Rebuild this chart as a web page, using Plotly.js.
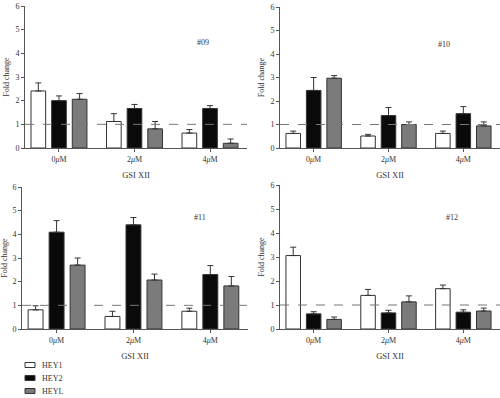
<!DOCTYPE html>
<html>
<head>
<meta charset="utf-8">
<script src="https://cdn.plot.ly/plotly-3.0.1.min.js"></script>
<style>html,body{margin:0;padding:0;background:#fff;}#chart{width:500px;height:398px;}</style>
</head>
<body>
<div id="chart"></div>
<script>
// Categories and series
var categories = ["0<i>μ</i>M", "2<i>μ</i>M", "4<i>μ</i>M"];
var seriesNames = ["HEY1", "HEY2", "HEYL"];
var panelLabels = ["#09", "#10", "#11", "#12"];
var yTicks = [0, 1, 2, 3, 4, 5, 6];

// #09
var p09_HEY1 = [2.41, 1.12, 0.63];
var p09_HEY1_err = [0.34, 0.33, 0.15];
var p09_HEY2 = [2.00, 1.67, 1.67];
var p09_HEY2_err = [0.20, 0.17, 0.12];
var p09_HEYL = [2.06, 0.81, 0.20];
var p09_HEYL_err = [0.24, 0.31, 0.18];
// #10
var p10_HEY1 = [0.62, 0.51, 0.62];
var p10_HEY1_err = [0.10, 0.07, 0.10];
var p10_HEY2 = [2.45, 1.38, 1.46];
var p10_HEY2_err = [0.55, 0.34, 0.30];
var p10_HEYL = [2.97, 1.00, 0.94];
var p10_HEYL_err = [0.11, 0.11, 0.17];
// #11
var p11_HEY1 = [0.81, 0.53, 0.75];
var p11_HEY1_err = [0.17, 0.22, 0.13];
var p11_HEY2 = [4.09, 4.40, 2.30];
var p11_HEY2_err = [0.49, 0.31, 0.38];
var p11_HEYL = [2.70, 2.07, 1.82];
var p11_HEYL_err = [0.30, 0.25, 0.40];
// #12
var p12_HEY1 = [3.06, 1.40, 1.68];
var p12_HEY1_err = [0.35, 0.25, 0.15];
var p12_HEY2 = [0.63, 0.67, 0.70];
var p12_HEY2_err = [0.09, 0.11, 0.10];
var p12_HEYL = [0.40, 1.13, 0.75];
var p12_HEYL_err = [0.10, 0.25, 0.12];

var panels = [
  [[p09_HEY1, p09_HEY1_err], [p09_HEY2, p09_HEY2_err], [p09_HEYL, p09_HEYL_err]],
  [[p10_HEY1, p10_HEY1_err], [p10_HEY2, p10_HEY2_err], [p10_HEYL, p10_HEYL_err]],
  [[p11_HEY1, p11_HEY1_err], [p11_HEY2, p11_HEY2_err], [p11_HEYL, p11_HEYL_err]],
  [[p12_HEY1, p12_HEY1_err], [p12_HEY2, p12_HEY2_err], [p12_HEYL, p12_HEYL_err]]
];

var fills = ["#ffffff", "#0a0a0a", "#7b7b7b"];
var W = 500, H = 398;
// pixel boxes: [left, right, top, bottom]
var boxes = [[25, 247, 6, 148], [280, 500, 7, 148], [22, 248, 187, 329], [280, 500, 185, 329]];
var labelPos = [[203, 36], [452, 38], [200, 217], [460, 217]];
var legendRows = [365, 378, 391];
var fontFam = "Liberation Serif, Times New Roman, serif";
var axisColor = "#555";
var textColor = "#333";

var traces = [];
var layout = {
  width: W, height: H,
  margin: {l: 0, r: 0, t: 0, b: 0},
  paper_bgcolor: "#fff", plot_bgcolor: "#fff",
  barmode: "group", bargap: 0.18, bargroupgap: 0.29,
  font: {family: fontFam, size: 8, color: textColor},
  showlegend: false,
  shapes: [], annotations: []
};

panels.forEach(function (panel, pi) {
  var n = pi + 1;
  var xa = n === 1 ? "x" : "x" + n;
  var ya = n === 1 ? "y" : "y" + n;
  panel.forEach(function (s, si) {
    traces.push({
      type: "bar", x: categories, y: s[0], name: seriesNames[si],
      xaxis: xa, yaxis: ya, showlegend: false,
      marker: {color: fills[si], line: {color: "#333", width: 1}},
      error_y: {type: "data", symmetric: false, array: s[1], arrayminus: [0, 0, 0],
                color: "#333", thickness: 1, width: 3}
    });
  });
  var b = boxes[pi];
  var xName = n === 1 ? "xaxis" : "xaxis" + n;
  var yName = n === 1 ? "yaxis" : "yaxis" + n;
  layout[xName] = {
    domain: [b[0] / W, b[1] / W], anchor: ya, type: "category",
    range: [-0.45, 2.49], showline: true, linecolor: axisColor, linewidth: 1,
    ticks: "outside", ticklen: 3, tickcolor: axisColor, showgrid: false, zeroline: false,
    tickfont: {family: fontFam, size: 8, color: textColor},
    title: {text: "GSI XII", font: {family: fontFam, size: 8.5, color: textColor}, standoff: 9},
    automargin: false, fixedrange: true
  };
  layout[yName] = {
    domain: [1 - b[3] / H, 1 - b[2] / H], anchor: xa,
    range: [0, 6], tickvals: yTicks, showline: true, linecolor: axisColor, linewidth: 1,
    ticks: "outside", ticklen: 3, tickcolor: axisColor, showgrid: false, zeroline: false,
    tickfont: {family: fontFam, size: 8, color: textColor},
    title: {text: "Fold change", font: {family: fontFam, size: 8, color: textColor}, standoff: 4},
    automargin: false, fixedrange: true
  };
  layout.shapes.push({
    type: "line", xref: xa + " domain", yref: ya, x0: 0, x1: 1, y0: 1, y1: 1,
    line: {color: "#777", width: 1, dash: "dash"}
  });
  layout.annotations.push({
    text: panelLabels[pi], xref: "paper", yref: "paper",
    x: labelPos[pi][0] / W, y: 1 - labelPos[pi][1] / H, showarrow: false,
    font: {family: fontFam, size: 8, color: textColor}
  });
});

// Manual legend (swatch + label per series)
seriesNames.forEach(function (name, i) {
  var cy = legendRows[i];
  layout.shapes.push({
    type: "rect", xref: "paper", yref: "paper",
    x0: 25 / W, x1: 35 / W, y0: 1 - (cy + 2.5) / H, y1: 1 - (cy - 2.5) / H,
    fillcolor: fills[i], line: {color: "#333", width: 1}
  });
  layout.annotations.push({
    text: name, xref: "paper", yref: "paper", x: 40 / W, y: 1 - cy / H,
    xanchor: "left", yanchor: "middle", showarrow: false,
    font: {family: fontFam, size: 8, color: textColor}
  });
});

Plotly.newPlot("chart", traces, layout, {displayModeBar: false, staticPlot: true});
</script>
</body>
</html>
